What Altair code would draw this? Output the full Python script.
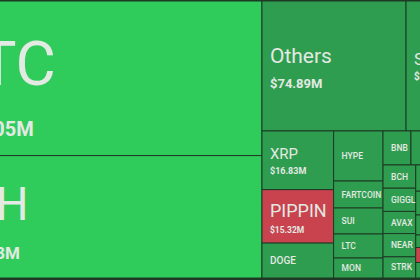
import altair as alt
import pandas as pd

# ---- data: 24h volume ($M) and price change (%) per coin ----
symbols = ["BTC", "ETH", "Others", "SOL", "XRP", "PIPPIN", "DOGE",
           "HYPE", "FARTCOIN", "SUI", "LTC", "MON",
           "BNB", "ADA", "LINK",
           "BCH", "GIGGLE", "AVAX", "NEAR", "STRK",
           "ENA", "TRX", "PEPE", "WIF", "ZEC", "TAO",
           "ONDO", "UNI", "AAVE", "ARB"]
volumes = [203.05, 160.78, 74.89, 24.40, 16.83, 15.32, 10.00,
           9.90, 5.33, 5.14, 4.74, 3.95,
           3.80, 3.20, 2.52,
           3.04, 3.04, 2.90, 3.04, 2.77,
           2.10, 1.90, 1.60, 1.00, 1.20, 1.24,
           2.50, 2.00, 1.80, 1.51]
changes = [3.4, 3.9, 1.2, 1.6, 1.1, -4.2, 1.3,
           0.9, 1.8, 1.0, 0.7, 1.5,
           0.6, 1.2, 1.1,
           0.8, 1.9, 1.0, 1.3, 0.9,
           1.4, 0.5, 1.1, 0.9, -1.3, 1.2,
           1.0, 0.8, 0.7, 1.2]

# treemap structure: "h" splits left-to-right, "v" splits top-to-bottom
TREE = ("h", [
    ("v", ["BTC", "ETH"]),
    ("v", [
        ("h", ["Others", "SOL"]),
        ("h", [
            ("v", ["XRP", "PIPPIN", "DOGE"]),
            ("v", ["HYPE", "FARTCOIN", "SUI", "LTC", "MON"]),
            ("v", [
                ("h", ["BNB", "ADA", "LINK"]),
                ("h", [
                    ("v", ["BCH", "GIGGLE", "AVAX", "NEAR", "STRK"]),
                    ("v", ["ENA", "TRX", "PEPE", "WIF", "ZEC", "TAO"]),
                    ("v", ["ONDO", "UNI", "AAVE", "ARB"]),
                ]),
            ]),
        ]),
    ]),
])

# ---- styling ----
BORDER = "#1d3a25"
BRIGHT = "#30cc5b"
MID = "#2f9d4f"
RED = "#c9434f"
TEXT = "#e3e9e3"
FONT = "Roboto"
FRAME_H = 277.0
AREA_PER_M = 250.0
VIEW_X = 66.4
# big tiles: label font, value font, label dy, value dy (relative to tile centre)
BIG = {
    "BTC": (62, 20, 6.5, 57.5),
    "ETH": (46, 17, 3.0, 42.0),
    "Others": (21, 13, -2.5, 22.5),
    "SOL": (17, 10, -1.0, 14.5),
    "XRP": (15, 9, -1.5, 13.5),
    "PIPPIN": (18, 8.5, 0.5, 16.5),
}
SMALL_FS = {"DOGE": 10}

vol = dict(zip(symbols, volumes))


def total(node):
    if isinstance(node, str):
        return vol[node]
    return sum(total(k) for k in node[1])


def layout(node, x0, y0, x1, y1, out):
    if isinstance(node, str):
        out[node] = (x0, y0, x1, y1)
        return
    kind, kids = node
    t = total(node)
    pos = x0 if kind == "h" else y0
    for k in kids:
        f = total(k) / t
        if kind == "h":
            w = (x1 - x0) * f
            layout(k, pos, y0, pos + w, y1, out)
        else:
            w = (y1 - y0) * f
            layout(k, x0, pos, x1, pos + w, out)
        pos += w


frame_w = total(TREE) * AREA_PER_M / FRAME_H
rects = {}
layout(TREE, 0.0, 0.0, frame_w, FRAME_H, rects)

rows = []
for s, v, c in zip(symbols, volumes, changes):
    x0, y0, x1, y1 = rects[s]
    rows.append(dict(sym=s, vol=v, change=c, x0=x0, x1=x1, y0=y0, y1=y1,
                     w=x1 - x0, cx=(x0 + x1) / 2, cy=(y0 + y1) / 2,
                     value=f"${v:.2f}M"))
df = pd.DataFrame(rows)

big = df[df.sym.isin(BIG.keys())].copy()
big["lx"] = big.x0 + 8
big["ly"] = [r.cy + BIG[r.sym][2] for r in big.itertuples()]
big["vy"] = [r.cy + BIG[r.sym][3] for r in big.itertuples()]
big["lfs"] = [BIG[r.sym][0] for r in big.itertuples()]
big["vfs"] = [BIG[r.sym][1] for r in big.itertuples()]

small = df[(~df.sym.isin(BIG.keys())) & (df.w >= 25)].copy()
small["fs"] = [SMALL_FS.get(s, 8.5) for s in small.sym]
small["lx"] = small.x0 + 8
small["label"] = [r.sym[: max(1, int((r.w - 8) / (0.52 * r.fs)))] for r in small.itertuples()]

xs = alt.Scale(domain=[VIEW_X, VIEW_X + 420], nice=False, zero=False)
ys = alt.Scale(domain=[-1, 279], nice=False, zero=False, reverse=True)

tiles = alt.Chart(df).mark_rect(stroke=BORDER, strokeWidth=1, clip=True).encode(
    x=alt.X("x0:Q", scale=xs, axis=None),
    x2="x1:Q",
    y=alt.Y("y0:Q", scale=ys, axis=None),
    y2="y1:Q",
    color=alt.Color("change:Q", scale=alt.Scale(type="threshold", domain=[0, 2.5],
                                                range=[RED, MID, BRIGHT]), legend=None),
)

big_lab = alt.Chart(big).mark_text(align="left", baseline="alphabetic", font=FONT,
                                   color=TEXT, clip=True).encode(
    x=alt.X("lx:Q", scale=xs, axis=None),
    y=alt.Y("ly:Q", scale=ys, axis=None),
    text="sym:N",
    size=alt.Size("lfs:Q", scale=None, legend=None),
)

big_val = alt.Chart(big).mark_text(align="left", baseline="alphabetic", font=FONT,
                                   fontWeight="bold", color=TEXT, clip=True).encode(
    x=alt.X("lx:Q", scale=xs, axis=None),
    y=alt.Y("vy:Q", scale=ys, axis=None),
    text="value:N",
    size=alt.Size("vfs:Q", scale=None, legend=None),
)

small_lab = alt.Chart(small).mark_text(align="left", baseline="middle", font=FONT,
                                       fontWeight=500, color=TEXT, clip=True).encode(
    x=alt.X("lx:Q", scale=xs, axis=None),
    y=alt.Y("cy:Q", scale=ys, axis=None),
    text="label:N",
    size=alt.Size("fs:Q", scale=None, legend=None),
)

chart = alt.layer(tiles, big_lab, big_val, small_lab).properties(
    width=420, height=280, padding=0, background=BORDER,
    autosize=alt.AutoSizeParams(type="fit", contains="padding"),
).configure_view(stroke=None)

chart.save("out.html", embed_options={"renderer": "svg", "actions": False})
